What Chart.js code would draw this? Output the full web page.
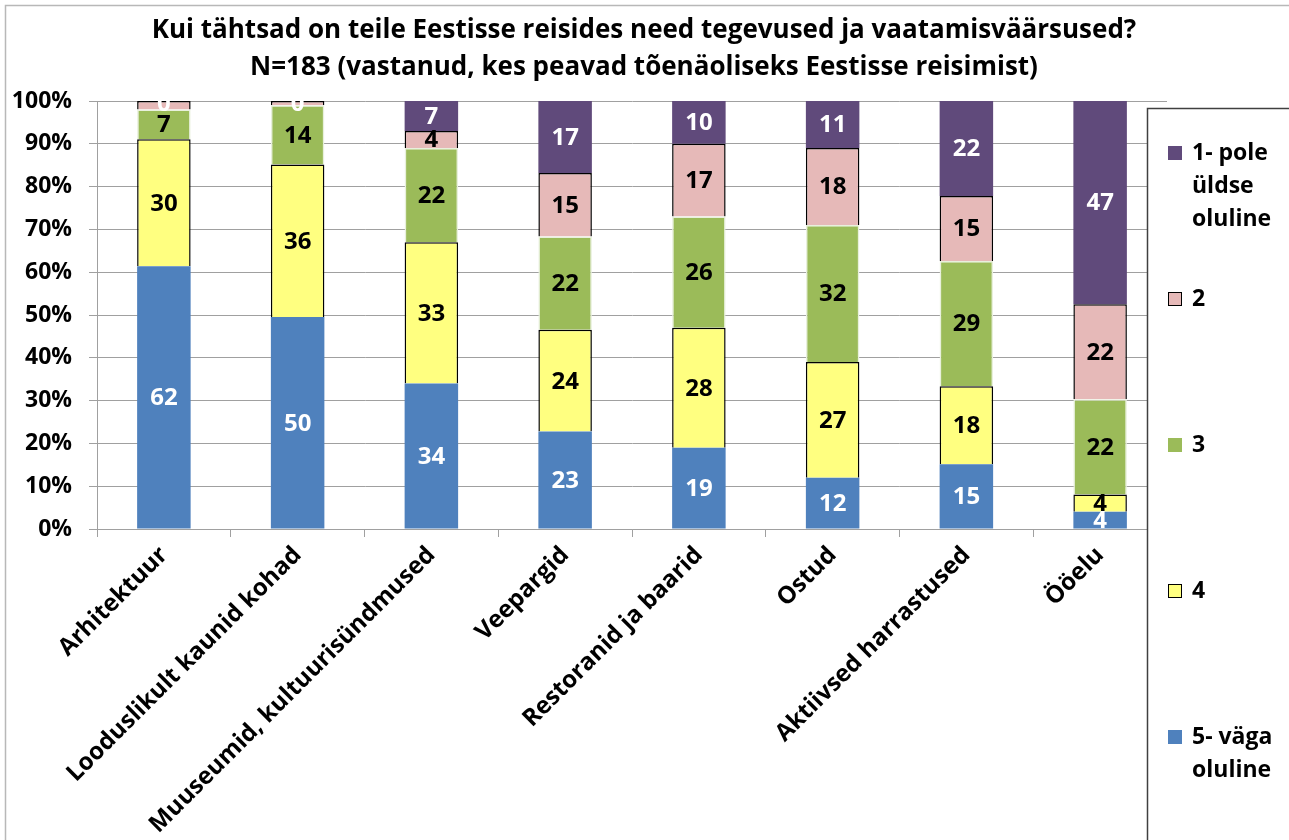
<!DOCTYPE html>
<html>
<head>
<meta charset="utf-8">
<script src="https://cdn.jsdelivr.net/npm/chart.js@4.4.1/dist/chart.umd.min.js"></script>
<style>
  html, body { margin: 0; padding: 0; background: #fff; }
  #wrap { width: 1289px; height: 840px; position: relative; }
</style>
</head>
<body>
<div id="wrap"><canvas id="myChart" width="1289" height="840"></canvas></div>
<script>
var categories = ['Arhitektuur', 'Looduslikult kaunid kohad', 'Muuseumid, kultuurisündmused',
    'Veepargid', 'Restoranid ja baarid', 'Ostud', 'Aktiivsed harrastused', 'Ööelu'];

var seriesNames = ['5- väga oluline', '4', '3', '2', '1- pole üldse oluline'];

var v5 = [62, 50, 34, 23, 19, 12, 15, 4];
var v4 = [30, 36, 33, 24, 28, 27, 18, 4];
var v3 = [7, 14, 22, 22, 26, 32, 29, 22];
var v2 = [2, 1, 4, 15, 17, 18, 15, 22];
var v1 = [0, 0, 7, 17, 10, 11, 22, 47];

var yTicks = [0, 10, 20, 30, 40, 50, 60, 70, 80, 90, 100];

var titleLines = ['Kui tähtsad on teile Eestisse reisides need tegevused ja vaatamisväärsused?',
    'N=183 (vastanud, kes peavad tõenäoliseks Eestisse reisimist)'];

var FONT = '"Open Sans", Lato, sans-serif';

var raw = [v5, v4, v3, v2, v1];
var totals = categories.map(function (c, i) {
    return v5[i] + v4[i] + v3[i] + v2[i] + v1[i];
});
function pct(arr) {
    return arr.map(function (v, i) { return v / totals[i] * 100; });
}

var colors = ['#4F81BD', '#FFFF80', '#9BBB59', '#E6B9B8', '#604A7B'];
var borders = ['#4F81BD', '#000000', '#E8F0DC', '#000000', '#604A7B'];
var borderW = [0, 1.5, 1.5, 1.5, 0];
var labelColors = ['#ffffff', '#000000', '#000000', '#000000', '#ffffff'];

var datasets = raw.map(function (arr, k) {
    return {
        label: seriesNames[k],
        data: pct(arr),
        backgroundColor: colors[k],
        borderColor: borders[k],
        borderWidth: borderW[k],
        barPercentage: 0.4,
        categoryPercentage: 1.0
    };
});

// bar value labels
var barLabels = {
    id: 'barLabels',
    afterDatasetsDraw: function (chart) {
        var ctx = chart.ctx;
        ctx.save();
        ctx.font = 'bold 24px ' + FONT;
        ctx.textAlign = 'center';
        ctx.textBaseline = 'middle';
        chart.data.datasets.forEach(function (ds, k) {
            var meta = chart.getDatasetMeta(k);
            meta.data.forEach(function (bar, i) {
                var val = raw[k][i];
                var p = bar.getProps(['x', 'y', 'base'], true);
                var h = Math.abs(p.base - p.y);
                if (val > 0 && h < 10) return;
                var cy = val === 0 ? p.y + 2 : (p.y + p.base) / 2;
                ctx.fillStyle = labelColors[k];
                ctx.fillText(String(val), p.x, cy + 1);
            });
        });
        ctx.restore();
    }
};

// title, outer frame, legend box
var decor = {
    id: 'decor',
    beforeDraw: function (chart) {
        var ctx = chart.ctx;
        ctx.save();
        ctx.fillStyle = '#fff';
        ctx.fillRect(0, 0, chart.width, chart.height);
        ctx.strokeStyle = '#b8b8b8';
        ctx.lineWidth = 1.5;
        ctx.strokeRect(5.5, 5.5, chart.width + 20, chart.height + 20);
        ctx.restore();
    },
    afterDraw: function (chart) {
        var ctx = chart.ctx;
        ctx.save();
        ctx.fillStyle = '#000';
        ctx.font = 'bold 26px ' + FONT;
        ctx.textAlign = 'center';
        ctx.textBaseline = 'middle';
        ctx.fillText(titleLines[0], 644, 31);
        ctx.fillText(titleLines[1], 644, 68);

        // legend
        ctx.fillStyle = '#fff';
        ctx.fillRect(1147, 108, 200, 800);
        ctx.strokeStyle = '#404040';
        ctx.lineWidth = 1.5;
        ctx.strokeRect(1147.5, 108.5, 200, 800);
        var items = [
            { k: 4, y: 153, lines: ['1- pole', 'üldse', 'oluline'] },
            { k: 3, y: 299, lines: ['2'] },
            { k: 2, y: 445, lines: ['3'] },
            { k: 1, y: 591, lines: ['4'] },
            { k: 0, y: 737, lines: ['5- väga', 'oluline'] }
        ];
        ctx.font = 'bold 23px ' + FONT;
        ctx.textAlign = 'left';
        items.forEach(function (it) {
            ctx.fillStyle = colors[it.k];
            ctx.fillRect(1168, it.y - 7, 14, 14);
            if (borderW[it.k] > 0 && it.k !== 2) {
                ctx.strokeStyle = '#000';
                ctx.lineWidth = 1;
                ctx.strokeRect(1168.5, it.y - 6.5, 13, 13);
            }
            ctx.fillStyle = '#000';
            it.lines.forEach(function (t, j) {
                ctx.fillText(t, 1192, it.y + j * 33);
            });
        });
        ctx.restore();
    }
};

var ctx = document.getElementById('myChart').getContext('2d');

var config = {
    type: 'bar',
    data: {
        labels: categories,
        datasets: datasets
    },
    options: {
        responsive: false,
        animation: false,
        layout: {
            padding: { top: 101, left: 0, right: 122, bottom: 0 }
        },
        plugins: {
            legend: { display: false },
            title: { display: false },
            tooltip: { enabled: false }
        },
        scales: {
            x: {
                stacked: true,
                afterFit: function (s) { s.height = 311; },
                grid: {
                    display: true,
                    drawOnChartArea: false,
                    tickLength: 8,
                    color: '#a0a0a0',
                    offset: true
                },
                border: { color: '#a0a0a0' },
                ticks: {
                    color: '#000',
                    font: { family: FONT, size: 24, weight: 'bold' },
                    maxRotation: 45,
                    minRotation: 45,
                    padding: 4
                }
            },
            y: {
                stacked: true,
                min: 0,
                max: 100,
                afterFit: function (s) { s.width = 97; },
                afterBuildTicks: function (s) {
                    s.ticks = yTicks.map(function (v) { return { value: v }; });
                },
                grid: {
                    color: '#a0a0a0',
                    tickLength: 8
                },
                border: { color: '#a0a0a0' },
                ticks: {
                    color: '#000',
                    padding: 17,
                    font: { family: FONT, size: 23, weight: 'bold' },
                    callback: function (v) { return v + '%'; }
                }
            }
        }
    },
    plugins: [decor, barLabels]
};

var myChart = new Chart(ctx, config);
</script>
</body>
</html>
